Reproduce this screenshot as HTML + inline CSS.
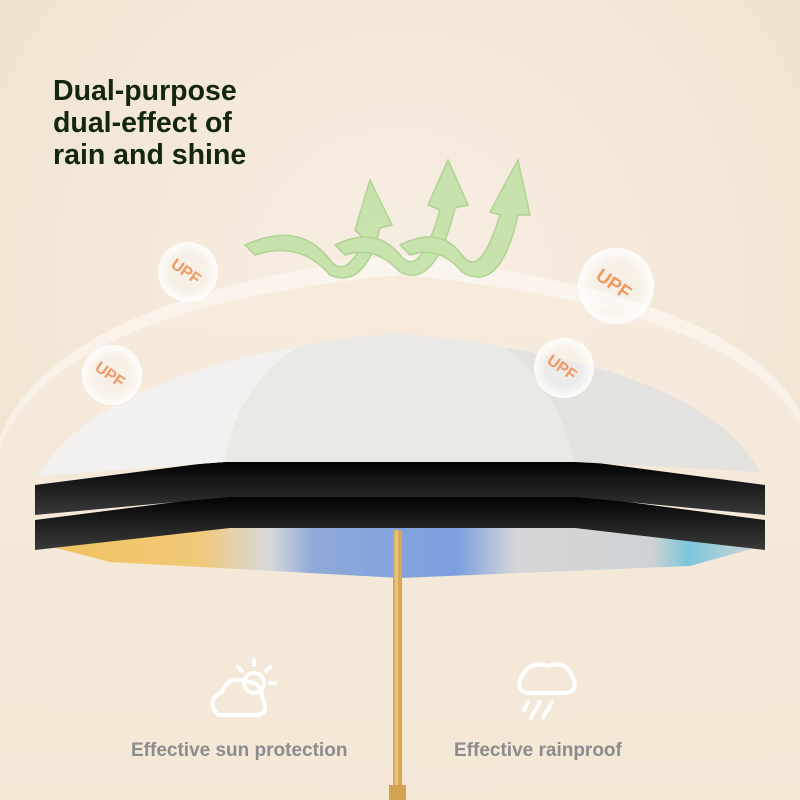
<!DOCTYPE html>
<html><head><meta charset="utf-8"><style>
html,body{margin:0;padding:0}
body{width:800px;height:800px;overflow:hidden;background:#f3e6d5;font-family:"Liberation Sans",sans-serif;position:relative}
.t{position:absolute;left:53px;top:75px;font-weight:bold;font-size:28.5px;line-height:32px;color:#142510}
.l{position:absolute;top:740px;font-weight:bold;font-size:19px;color:#8c8c8c}
</style></head><body>
<svg width="800" height="800" style="position:absolute;left:0;top:0">
<defs>
<radialGradient id="bg" cx="50%" cy="35%" r="70%"><stop offset="0" stop-color="#f7eee3"/><stop offset="1" stop-color="#f0e2cf"/></radialGradient>
<linearGradient id="glow" x1="0" y1="0" x2="0" y2="1"><stop offset="0" stop-color="#fbf6ef"/><stop offset="1" stop-color="#f4e8d9"/></linearGradient>
<linearGradient id="blk" x1="0" y1="0" x2="0" y2="1"><stop offset="0" stop-color="#000"/><stop offset="1" stop-color="#3a3a3a"/></linearGradient>
<linearGradient id="art" x1="0" y1="0" x2="1" y2="0"><stop offset="0" stop-color="#f0c15e"/><stop offset="0.22" stop-color="#f1c977"/><stop offset="0.32" stop-color="#d8d8dc"/><stop offset="0.38" stop-color="#8fa9d8"/><stop offset="0.58" stop-color="#7c9fe0"/><stop offset="0.66" stop-color="#d6d6d8"/><stop offset="0.85" stop-color="#cfd2d4"/><stop offset="0.9" stop-color="#7cc6da"/><stop offset="1" stop-color="#d7d7d7"/></linearGradient>
<radialGradient id="bub" cx="50%" cy="50%" r="50%"><stop offset="0.6" stop-color="#fff" stop-opacity="0.3"/><stop offset="1" stop-color="#fff" stop-opacity="0.9"/></radialGradient>
</defs>
<rect width="800" height="800" fill="url(#bg)"/>
<path d="M-10 470 Q20 300 400 255 Q780 300 810 440 L810 800 L-10 800Z" fill="url(#glow)" opacity="0.9"/>
<path d="M-10 480 Q20 310 400 275 Q770 310 810 450 L810 800 L-10 800Z" fill="#f4e7d6" opacity="0.7"/>
<!-- arrows -->
<g fill="#c4e2a8" stroke="#a9d08a" stroke-width="1.5" opacity="0.9">
<path d="M245 245 Q300 220 330 260 Q345 280 365 240 L355 230 L370 180 L392 225 L380 228 Q365 290 330 275 Q300 240 255 255Z"/>
<path d="M335 245 Q375 225 400 255 Q420 280 440 210 L428 205 L448 160 L468 205 L455 208 Q435 290 400 272 Q375 245 345 255Z"/>
<path d="M400 245 Q440 225 462 255 Q480 280 500 215 L490 212 L518 160 L530 215 L518 215 Q500 295 462 272 Q440 245 410 255Z"/>
</g>
<!-- art strip -->
<path d="M45 545 L110 562 L400 578 L690 566 L755 548 L760 520 L40 520Z" fill="url(#art)"/>
<!-- black layers -->
<path d="M35 550 L230 528 L575 528 L765 550 L765 520 L575 495 L230 495 L35 520Z" fill="url(#blk)"/>
<path d="M35 515 L230 497 L575 497 L765 515 L765 485 L575 460 L230 460 L35 485Z" fill="url(#blk)"/>
<!-- top canopy -->
<path d="M38 476 C70 420 140 385 240 358 C300 345 350 336 397 334 C450 338 490 344 520 350 C620 370 720 400 760 472 L575 462 L225 462Z" fill="#e4e2df"/>
<path d="M225 462 C232 410 260 370 300 346 C340 338 370 335 397 334 C450 338 480 342 505 347 C545 380 565 420 575 462Z" fill="#ebe9e6"/>
<path d="M38 476 C70 420 140 385 240 358 L300 346 C260 370 232 410 225 462Z" fill="#f2f1ef"/>
<!-- shaft -->
<rect x="393" y="530" width="9" height="270" fill="#d8a85a"/>
<rect x="395" y="530" width="3" height="270" fill="#eac27c"/>
<rect x="389" y="785" width="17" height="15" fill="#d3a352"/>
<!-- bubbles -->
<g font-family="Liberation Sans" font-weight="bold" font-size="16" fill="#ef9a63">
<circle cx="188" cy="272" r="30" fill="url(#bub)"/><text x="170" y="278" transform="rotate(35 188 272)">UPF</text>
<circle cx="112" cy="375" r="30" fill="url(#bub)"/><text x="94" y="381" transform="rotate(35 112 375)">UPF</text>
<circle cx="616" cy="286" r="38" fill="url(#bub)"/><text x="594" y="292" font-size="19" transform="rotate(35 616 286)">UPF</text>
<circle cx="564" cy="368" r="30" fill="url(#bub)"/><text x="546" y="374" transform="rotate(35 564 368)">UPF</text>
</g>
<!-- icons -->
<g fill="none" stroke="#fff" stroke-width="4" stroke-linecap="round">
<path d="M218 715 Q205 700 222 692 Q228 675 248 682 Q262 682 262 698 Q270 712 258 715Z"/>
<circle cx="254" cy="683" r="10"/>
<path d="M254 665v-5M270 683h5M266 671l4-4M242 671l-4-4"/>
<path d="M528 693 Q514 690 522 676 Q530 660 548 666 Q566 660 572 676 Q580 690 566 693Z"/>
<path d="M528 702l-4 8M540 702l-4 8M552 702l-4 8M534 712l-3 6M546 712l-3 6"/>
</g>
</svg>
<div class="t">Dual-purpose<br>dual-effect of<br>rain and shine</div>
<div class="l" style="left:131px">Effective sun protection</div>
<div class="l" style="left:454px">Effective rainproof</div>
</body></html>
